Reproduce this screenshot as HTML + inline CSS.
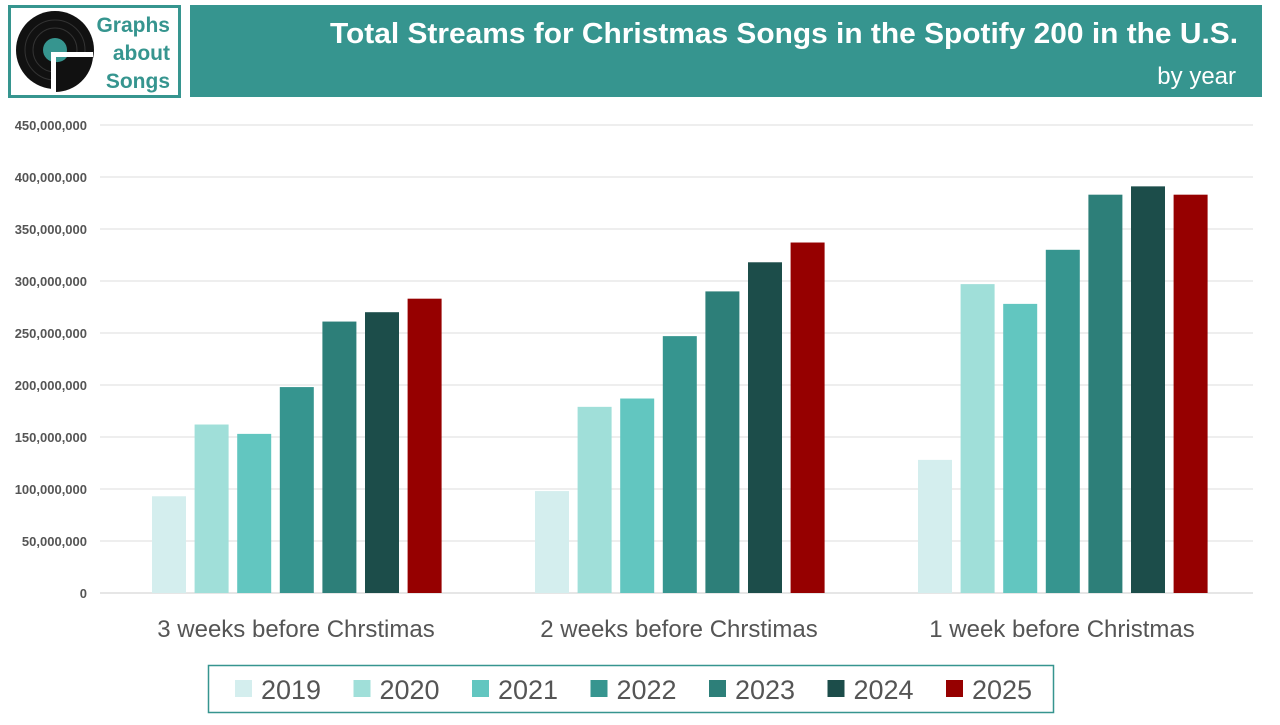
<!DOCTYPE html>
<html><head><meta charset="utf-8"><style>
body{margin:0;width:1280px;height:720px;background:#fff;overflow:hidden;font-family:"Liberation Sans",sans-serif}
</style></head><body>
<svg id="c" width="1280" height="720" xmlns="http://www.w3.org/2000/svg">
<rect x="9.5" y="6.5" width="170" height="90" fill="#fff" stroke="#36958f" stroke-width="3"/>
<g>
<circle cx="55" cy="50" r="39" fill="#111"/>
<circle cx="55" cy="50" r="30" fill="none" stroke="#333" stroke-width="1"/>
<circle cx="55" cy="50" r="22" fill="none" stroke="#333" stroke-width="1"/>
<circle cx="55" cy="50" r="12" fill="#36958f"/>
<path d="M51 52 H93 V94 H51 Z" fill="#fff"/>
<path d="M56 57 H93 A38 38 0 0 1 56 92 Z" fill="#111"/>
<path d="M56 57 H67 A12 12 0 0 1 56 62 Z" fill="#36958f"/>
</g>
<text x="170" y="32" text-anchor="end" font-size="21" font-weight="bold" fill="#36958f">Graphs</text>
<text x="170" y="60" text-anchor="end" font-size="21" font-weight="bold" fill="#36958f">about</text>
<text x="170" y="88" text-anchor="end" font-size="21" font-weight="bold" fill="#36958f">Songs</text>
<rect x="190" y="5" width="1072" height="92" fill="#36958f"/>
<text x="1238" y="43" text-anchor="end" font-size="29" font-weight="bold" fill="#fff" textLength="908" lengthAdjust="spacingAndGlyphs">Total Streams for Christmas Songs in the Spotify 200 in the U.S.</text>
<text x="1236" y="84" text-anchor="end" font-size="24" fill="#fff">by year</text>
<g id="grid"></g><g id="bars"></g><g id="labels"></g>
<rect x="208.5" y="665.5" width="845" height="47" fill="#fff" stroke="#36958f" stroke-width="1.5"/>
<g id="legend"></g>
</svg>
<script>
const categories=["3 weeks before Chrstimas","2 weeks before Chrstimas","1 week before Christmas"];
const years=["2019","2020","2021","2022","2023","2024","2025"];
const colors=["#d4eeee","#a0dfd9","#62c6c0","#36958f","#2d7f79","#1c4d4a","#960000"];
const v2019=[93,98,128];
const v2020=[162,179,297];
const v2021=[153,187,278];
const v2022=[198,247,330];
const v2023=[261,290,383];
const v2024=[270,318,391];
const v2025=[283,337,383];
const yTicks=[0,50,100,150,200,250,300,350,400,450];
const series=[v2019,v2020,v2021,v2022,v2023,v2024,v2025];
const NS="http://www.w3.org/2000/svg";
const y0=593,y1=125,x0=104.5,gw=383;
function y(v){return y0-(v/450)*(y0-y1);}
function mk(t,a,p){const e=document.createElementNS(NS,t);for(const k in a)e.setAttribute(k,a[k]);document.getElementById(p).appendChild(e);return e;}
yTicks.forEach(t=>{
 const l=mk("line",{x1:100,x2:1253,y1:y(t),y2:y(t),stroke:t===0?"#ccc":"#ddd","stroke-width":1},"grid");
 
 
 const tx=mk("text",{x:87,y:y(t)+5,"text-anchor":"end","font-size":13,"font-weight":"bold",fill:"#555"},"labels");
 tx.textContent=(t*1000000).toLocaleString("en-US");
 
 
});
categories.forEach((c,i)=>{
 const cx=x0+gw*i+gw/2;
 series.forEach((s,j)=>{
  const bx=cx-144+j*42.6;
  const r=mk("rect",{x:bx,y:y(s[i]),width:34,height:y0-y(s[i]),fill:colors[j]},"bars");
  
  
 });
 const t=mk("text",{x:cx,y:637,"text-anchor":"middle","font-size":24,fill:"#555"},"labels");
 t.textContent=c;
 
 
});
years.forEach((yr,j)=>{
 const lx=235+j*118.5;
 const r=mk("rect",{x:lx,y:680,width:17,height:17,fill:colors[j]},"legend");
 
 
 const t=mk("text",{x:lx+26,y:699,"font-size":27,fill:"#555"},"legend");
 t.textContent=yr;
 
 
});
</script>
</body></html>
